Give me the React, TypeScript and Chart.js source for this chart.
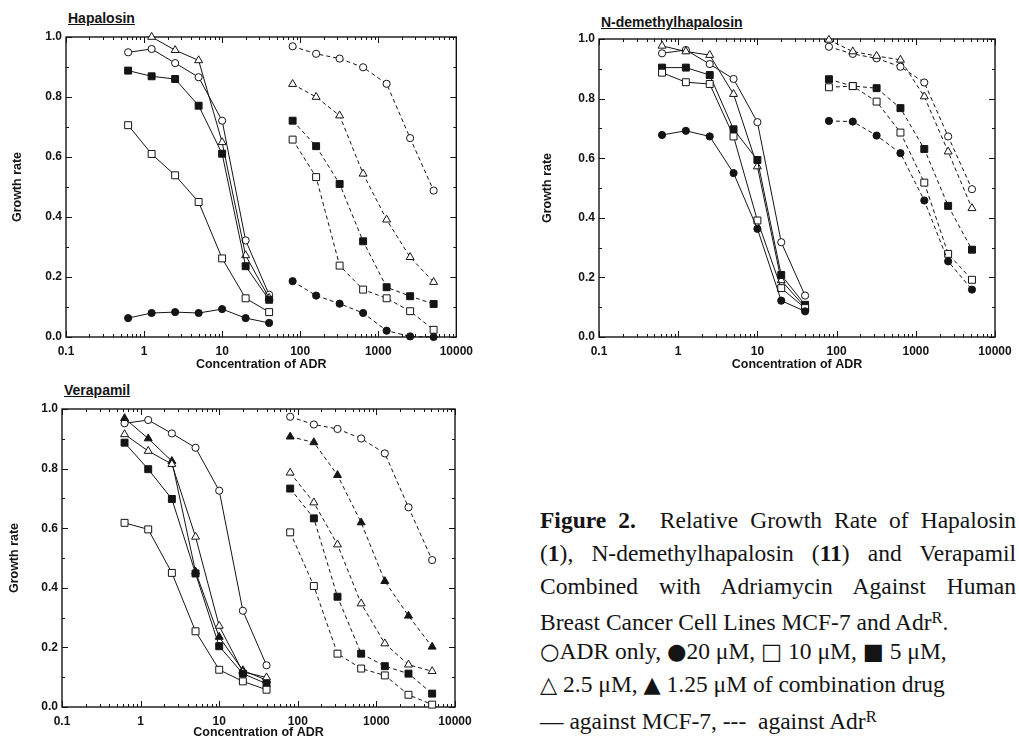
import React, { useEffect, useRef } from "react";
import { Chart, registerables } from "chart.js";

Chart.register(...registerables);

// ---------- data ----------
const concMCF7 = [0.625, 1.25, 2.5, 5, 10, 20, 40];
const concAdrR = [80, 160, 320, 640, 1280, 2560, 5120];
const xTickValues = [0.1, 1, 10, 100, 1000, 10000];
const yTickValues = [0, 0.2, 0.4, 0.6, 0.8, 1.0];

// Hapalosin
const hapMCF7_ADR = [0.949, 0.96, 0.913, 0.866, 0.721, 0.322, 0.141];
const hapMCF7_20 = [0.063, 0.08, 0.083, 0.08, 0.093, 0.063, 0.047];
const hapMCF7_10 = [0.706, 0.61, 0.539, 0.45, 0.262, 0.129, 0.083];
const hapMCF7_5 = [0.888, 0.869, 0.86, 0.771, 0.611, 0.236, 0.124];
const hapMCF7_2_5 = [null, 1.0, 0.956, 0.922, 0.649, 0.272, 0.13];
const hapAdrR_ADR = [0.969, 0.944, 0.928, 0.899, 0.844, 0.663, 0.488];
const hapAdrR_20 = [0.186, 0.138, 0.111, 0.08, 0.021, 0.002, 0.0];
const hapAdrR_10 = [0.658, 0.533, 0.238, 0.158, 0.129, 0.086, 0.024];
const hapAdrR_5 = [0.721, 0.636, 0.51, 0.319, 0.166, 0.136, 0.11];
const hapAdrR_2_5 = [0.843, 0.8, 0.738, 0.544, 0.391, 0.266, 0.183];

// N-demethylhapalosin
const ndmMCF7_ADR = [0.952, 0.963, 0.916, 0.866, 0.721, 0.318, 0.139];
const ndmMCF7_20 = [0.678, 0.692, 0.673, 0.55, 0.363, 0.122, 0.086];
const ndmMCF7_10 = [0.887, 0.855, 0.849, 0.673, 0.391, 0.164, 0.097];
const ndmMCF7_5 = [0.904, 0.904, 0.879, 0.697, 0.594, 0.208, 0.108];
const ndmMCF7_2_5 = [0.977, 0.958, 0.946, 0.815, 0.572, 0.19, 0.1];
const ndmAdrR_ADR = [0.974, 0.95, 0.935, 0.907, 0.854, 0.673, 0.496];
const ndmAdrR_20 = [0.725, 0.723, 0.676, 0.617, 0.458, 0.254, 0.159];
const ndmAdrR_10 = [0.838, 0.842, 0.79, 0.686, 0.518, 0.279, 0.192];
const ndmAdrR_5 = [0.865, 0.842, 0.835, 0.768, 0.631, 0.44, 0.293];
const ndmAdrR_2_5 = [0.997, 0.958, 0.943, 0.93, 0.807, 0.622, 0.432];

// Verapamil
const verMCF7_ADR = [0.952, 0.963, 0.918, 0.87, 0.726, 0.323, 0.14];
const verMCF7_1_25 = [0.969, 0.901, 0.825, 0.454, 0.235, 0.123, 0.09];
const verMCF7_2_5 = [0.915, 0.859, 0.815, 0.571, 0.272, 0.118, 0.099];
const verMCF7_5 = [0.887, 0.798, 0.698, 0.448, 0.204, 0.112, 0.078];
const verMCF7_10 = [0.618, 0.596, 0.45, 0.254, 0.125, 0.086, 0.058];
const verAdrR_ADR = [0.974, 0.948, 0.933, 0.901, 0.851, 0.67, 0.493];
const verAdrR_1_25 = [0.907, 0.888, 0.778, 0.619, 0.422, 0.306, 0.202];
const verAdrR_2_5 = [0.786, 0.686, 0.545, 0.347, 0.213, 0.142, 0.12];
const verAdrR_5 = [0.733, 0.633, 0.37, 0.179, 0.137, 0.112, 0.045];
const verAdrR_10 = [0.586, 0.406, 0.179, 0.129, 0.106, 0.041, 0.008];

// ---------- styles ----------
const INK = "#141414";
const AXIS_FONT = "'Liberation Sans', Arial, sans-serif";

type MarkerKey = "adr" | "c20" | "c10" | "c5" | "c2_5" | "c1_25";
const MARKERS: Record<MarkerKey, { style: string; filled: boolean; r: number }> = {
  adr: { style: "circle", filled: false, r: 3.6 },
  c20: { style: "circle", filled: true, r: 3.6 },
  c10: { style: "rect", filled: false, r: 4.9 },
  c5: { style: "rect", filled: true, r: 4.9 },
  c2_5: { style: "triangle", filled: false, r: 4.6 },
  c1_25: { style: "triangle", filled: true, r: 4.6 },
};

type Series = { marker: MarkerKey; mcf7: (number | null)[]; adrR: (number | null)[] };

const hapSeries: Series[] = [
  { marker: "c20", mcf7: hapMCF7_20, adrR: hapAdrR_20 },
  { marker: "c10", mcf7: hapMCF7_10, adrR: hapAdrR_10 },
  { marker: "c5", mcf7: hapMCF7_5, adrR: hapAdrR_5 },
  { marker: "c2_5", mcf7: hapMCF7_2_5, adrR: hapAdrR_2_5 },
  { marker: "adr", mcf7: hapMCF7_ADR, adrR: hapAdrR_ADR },
];
const ndmSeries: Series[] = [
  { marker: "c20", mcf7: ndmMCF7_20, adrR: ndmAdrR_20 },
  { marker: "c10", mcf7: ndmMCF7_10, adrR: ndmAdrR_10 },
  { marker: "c5", mcf7: ndmMCF7_5, adrR: ndmAdrR_5 },
  { marker: "c2_5", mcf7: ndmMCF7_2_5, adrR: ndmAdrR_2_5 },
  { marker: "adr", mcf7: ndmMCF7_ADR, adrR: ndmAdrR_ADR },
];
const verSeries: Series[] = [
  { marker: "c10", mcf7: verMCF7_10, adrR: verAdrR_10 },
  { marker: "c5", mcf7: verMCF7_5, adrR: verAdrR_5 },
  { marker: "c2_5", mcf7: verMCF7_2_5, adrR: verAdrR_2_5 },
  { marker: "c1_25", mcf7: verMCF7_1_25, adrR: verAdrR_1_25 },
  { marker: "adr", mcf7: verMCF7_ADR, adrR: verAdrR_ADR },
];

const framePlugin = {
  id: "frameTicks",
  beforeDatasetsDraw(chart: any) {
    const { ctx, chartArea: a, scales } = chart;
    const xs = scales.x;
    const ys = scales.y;
    ctx.save();
    ctx.strokeStyle = INK;
    ctx.lineWidth = 1.4;
    ctx.strokeRect(a.left, a.top, a.right - a.left, a.bottom - a.top);
    ctx.lineWidth = 1;
    ctx.beginPath();
    for (let e = -1; e <= 4; e++) {
      for (let m = 1; m <= 9; m++) {
        const v = m * Math.pow(10, e);
        if (v > 10000.001) break;
        const px = Math.round(xs.getPixelForValue(v)) + 0.5;
        const len = m === 1 ? 6 : 3;
        ctx.moveTo(px, a.bottom);
        ctx.lineTo(px, a.bottom - len);
        ctx.moveTo(px, a.top);
        ctx.lineTo(px, a.top + len);
      }
    }
    for (let i = 0; i <= 10; i++) {
      const py = Math.round(ys.getPixelForValue(i / 10)) + 0.5;
      const len = i % 2 === 0 ? 6 : 3;
      ctx.moveTo(a.left, py);
      ctx.lineTo(a.left + len, py);
      ctx.moveTo(a.right, py);
      ctx.lineTo(a.right - len, py);
    }
    ctx.stroke();
    ctx.restore();
  },
};

type PanelProps = {
  title: string;
  series: Series[];
  left: number;
  top: number;
  width: number;
  height: number;
  padTop: number;
  padRight: number;
  yAxisWidth: number;
  xAxisHeight: number;
  yTitlePad: number;
  xTitlePad: number;
  titleX: number;
  titleY: number;
};

function Panel(p: PanelProps) {
  const ref = useRef<HTMLCanvasElement | null>(null);
  useEffect(() => {
    if (!ref.current) return;
    const datasets: any[] = [];
    p.series.forEach((s) => {
      const mk = MARKERS[s.marker];
      [
        { conc: concMCF7, vals: s.mcf7, dash: [] as number[] },
        { conc: concAdrR, vals: s.adrR, dash: [4, 3] },
      ].forEach((seg) => {
        const pts: { x: number; y: number }[] = [];
        seg.conc.forEach((c, i) => {
          const v = seg.vals[i];
          if (v !== null && v !== undefined) pts.push({ x: c, y: v });
        });
        datasets.push({
          data: pts,
          borderColor: INK,
          borderWidth: 1,
          borderDash: seg.dash,
          pointStyle: mk.style,
          pointRadius: mk.r,
          pointBorderWidth: 1,
          pointBorderColor: INK,
          pointBackgroundColor: mk.filled ? INK : "#ffffff",
          fill: false,
          tension: 0,
          clip: false,
        });
      });
    });
    const tickFont = { family: AXIS_FONT, size: 12, weight: "bold" as const };
    const chart = new Chart(ref.current, {
      type: "line",
      data: { datasets },
      plugins: [framePlugin],
      options: {
        responsive: false,
        animation: false,
        events: [],
        layout: { padding: { top: p.padTop, right: p.padRight, left: 0, bottom: 0 } },
        plugins: { legend: { display: false }, tooltip: { enabled: false } },
        scales: {
          x: {
            type: "logarithmic",
            min: 0.1,
            max: 10000,
            afterBuildTicks: (s: any) => {
              s.ticks = xTickValues.map((v) => ({ value: v }));
            },
            afterFit: (s: any) => {
              s.height = p.xAxisHeight;
            },
            ticks: {
              autoSkip: false,
              maxRotation: 0,
              padding: 7,
              color: INK,
              font: tickFont,
              callback: (v: any) => (Number(v) < 1 ? "0.1" : String(Number(v))),
            },
            grid: { display: false, drawTicks: false },
            border: { display: false },
            title: {
              display: true,
              text: "Concentration of ADR",
              color: INK,
              font: { family: AXIS_FONT, size: 12.5, weight: "bold" },
              padding: { top: 0, bottom: p.xTitlePad },
            },
          },
          y: {
            type: "linear",
            min: 0,
            max: 1,
            afterBuildTicks: (s: any) => {
              s.ticks = yTickValues.map((v) => ({ value: v }));
            },
            afterFit: (s: any) => {
              s.width = p.yAxisWidth;
            },
            ticks: {
              padding: 4,
              color: INK,
              font: tickFont,
              callback: (v: any) => Number(v).toFixed(1),
            },
            grid: { display: false, drawTicks: false },
            border: { display: false },
            title: {
              display: true,
              text: "Growth rate",
              color: INK,
              font: { family: AXIS_FONT, size: 12.5, weight: "bold" },
              padding: { top: p.yTitlePad, bottom: 0 },
            },
          },
        },
      } as any,
    });
    return () => chart.destroy();
  }, []);
  return (
    <>
      <div
        style={{
          position: "absolute",
          left: p.titleX,
          top: p.titleY - 9,
          height: 18,
          lineHeight: "18px",
          fontFamily: AXIS_FONT,
          fontWeight: "bold",
          fontSize: 14,
          color: INK,
          textDecoration: "underline",
          whiteSpace: "nowrap",
        }}
      >
        {p.title}
      </div>
      <canvas
        ref={ref}
        width={p.width}
        height={p.height}
        style={{ position: "absolute", left: p.left, top: p.top, width: p.width, height: p.height }}
      />
    </>
  );
}

const CAP_LEFT = 540;
const CAP_WIDTH = 476;
const CAP_FONT = 23.5;
const CAP_TOP0 = 520;
const CAP_STEP = 32.8;

function CapLine({ i, justify, children }: { i: number; justify?: boolean; children: React.ReactNode }) {
  return (
    <div
      style={{
        position: "absolute",
        left: CAP_LEFT,
        top: CAP_TOP0 + i * CAP_STEP - 16,
        width: CAP_WIDTH,
        height: 32,
        lineHeight: "32px",
        fontFamily: "'Liberation Serif', 'Times New Roman', serif",
        fontSize: CAP_FONT,
        color: INK,
        whiteSpace: "nowrap",
        textAlign: justify ? "justify" : "left",
        textAlignLast: justify ? "justify" : "left",
      } as React.CSSProperties}
    >
      {children}
    </div>
  );
}

const supStyle: React.CSSProperties = { fontSize: "0.7em", verticalAlign: "0.45em" };
const symStyle: React.CSSProperties = { fontFamily: "'DejaVu Sans', sans-serif", fontSize: "0.95em" };

export default function App() {
  return (
    <div style={{ position: "absolute", left: 0, top: 0, width: 1019, height: 743, background: "#fff", overflow: "hidden" }}>
      <Panel
        title="Hapalosin"
        series={hapSeries}
        left={0}
        top={0}
        width={480}
        height={380}
        padTop={37}
        padRight={21}
        yAxisWidth={66}
        xAxisHeight={43}
        yTitlePad={10.5}
        xTitlePad={7.5}
        titleX={68}
        titleY={18}
      />
      <Panel
        title="N-demethylhapalosin"
        series={ndmSeries}
        left={530}
        top={0}
        width={489}
        height={380}
        padTop={39}
        padRight={24}
        yAxisWidth={69}
        xAxisHeight={43}
        yTitlePad={10.5}
        xTitlePad={7.5}
        titleX={601}
        titleY={22}
      />
      <Panel
        title="Verapamil"
        series={verSeries}
        left={0}
        top={385}
        width={480}
        height={358}
        padTop={24}
        padRight={25}
        yAxisWidth={62}
        xAxisHeight={36}
        yTitlePad={7.5}
        xTitlePad={2.5}
        titleX={64}
        titleY={390}
      />
      <CapLine i={0} justify>
        <b>Figure 2.</b>&nbsp; Relative Growth Rate of Hapalosin
      </CapLine>
      <CapLine i={1} justify>
        (<b>1</b>), N-demethylhapalosin (<b>11</b>) and Verapamil
      </CapLine>
      <CapLine i={2} justify>
        Combined with Adriamycin Against Human
      </CapLine>
      <CapLine i={3}>
        Breast Cancer Cell Lines MCF-7 and Adr<span style={supStyle}>R</span>.
      </CapLine>
      <CapLine i={4}>
        <span style={symStyle}>○</span>ADR only, <span style={symStyle}>●</span>20 μM, <span style={symStyle}>□</span> 10 μM,{" "}
        <span style={symStyle}>■</span> 5 μM,
      </CapLine>
      <CapLine i={5}>
        <span style={symStyle}>△</span> 2.5 μM, <span style={symStyle}>▲</span> 1.25 μM of combination drug
      </CapLine>
      <CapLine i={6}>
        — against MCF-7, ---&nbsp; against Adr<span style={supStyle}>R</span>
      </CapLine>
    </div>
  );
}
